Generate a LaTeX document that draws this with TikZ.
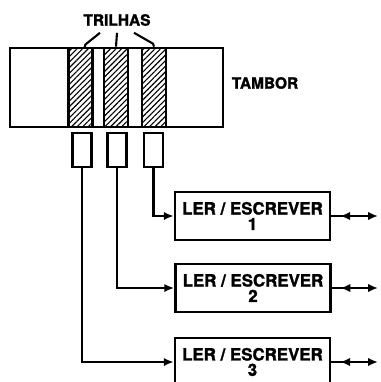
\documentclass[tikz,border=0pt]{standalone}
\usepackage{fontspec}
\setmainfont[BoldFeatures={FakeBold=1.5}]{TeX Gyre Heros}
\usetikzlibrary{arrows.meta}
\usetikzlibrary{patterns.meta}
\usetikzlibrary{calc}
\usetikzlibrary{decorations.markings}

\begin{document}
\begin{tikzpicture}[
  x=0.025cm, y=-0.025cm,
  every node/.style={font=\bfseries\fontsize{11}{11}\selectfont},
  box/.style={rectangle, draw, line width=1.9pt, inner sep=0pt},
  strip/.style={box, pattern={Lines[angle=45,distance=2.8pt,line width=0.8pt]},
    minimum width=0.6cm, minimum height=1.975cm},
  head/.style={box, line width=1.5pt, minimum width=0.475cm, minimum height=0.85cm},
  rw/.style={box, minimum width=3.875cm, minimum height=1.2cm, align=center,
    font=\bfseries\fontsize{12}{11}\selectfont},
  ln/.style={line width=1.5pt},
  feed/.style={ln, -{Latex[length=7pt,width=6pt]}},
  io/.style={ln, -{Latex[length=7pt,width=6pt]}, postaction={decorate},
    decoration={markings, mark=at position 0.4 with {\arrow{Latex[reversed,length=7pt,width=6pt]}}}}
]
\useasboundingbox (0,0) rectangle (381,382);

% Drum with its three tracks
\node[box, minimum width=5.325cm, minimum height=1.975cm] (drum) at (116.5,87.5) {};
\node[strip] (s1) at (80.5,87.5) {};
\node[strip] (s2) at (116,87.5) {};
\node[strip] (s3) at (154,87.5) {};
\node (tambor) at (265,83) {TAMBOR};
\node (tr) at (117,20) {TRILHAS};

% Leaders to the tracks
\draw[ln] ($(tr.south)+(-17,2)$) -- ($(s1.north)+(5,-3)$) -- ($(s1.north)+(4,0)$);
\draw[ln] ($(tr.south)+(0,2)$) -- (s2.north);
\draw[ln] ($(tr.south)+(17,2)$) -- ($(s3.north)+(-1,-3)$) -- ($(s3.north)+(0,0)$);

% Heads
\node[head] (h1) at (82,150) {};
\node[head] (h2) at (117,150) {};
\node[head] (h3) at (153.5,150) {};

% Read/write units
\node[rw] (b1) at (252.5,216) {LER / ESCREVER\\1};
\node[rw] (b2) at (253,288) {LER / ESCREVER\\2};
\node[rw] (b3) at (252.5,362) {LER / ESCREVER\\3};

\draw[feed] (h3) |- (b1);
\draw[feed] (h2) |- (b2);
\draw[feed] (h1) |- (b3);

% Outputs
\coordinate (o1) at (378,216);
\coordinate (o2) at (378,288);
\coordinate (o3) at (378,362);
\draw[io] (b1) -- (o1);
\draw[io] (b2) -- (o2);
\draw[io] (b3) -- (o3);
\end{tikzpicture}
\end{document}
